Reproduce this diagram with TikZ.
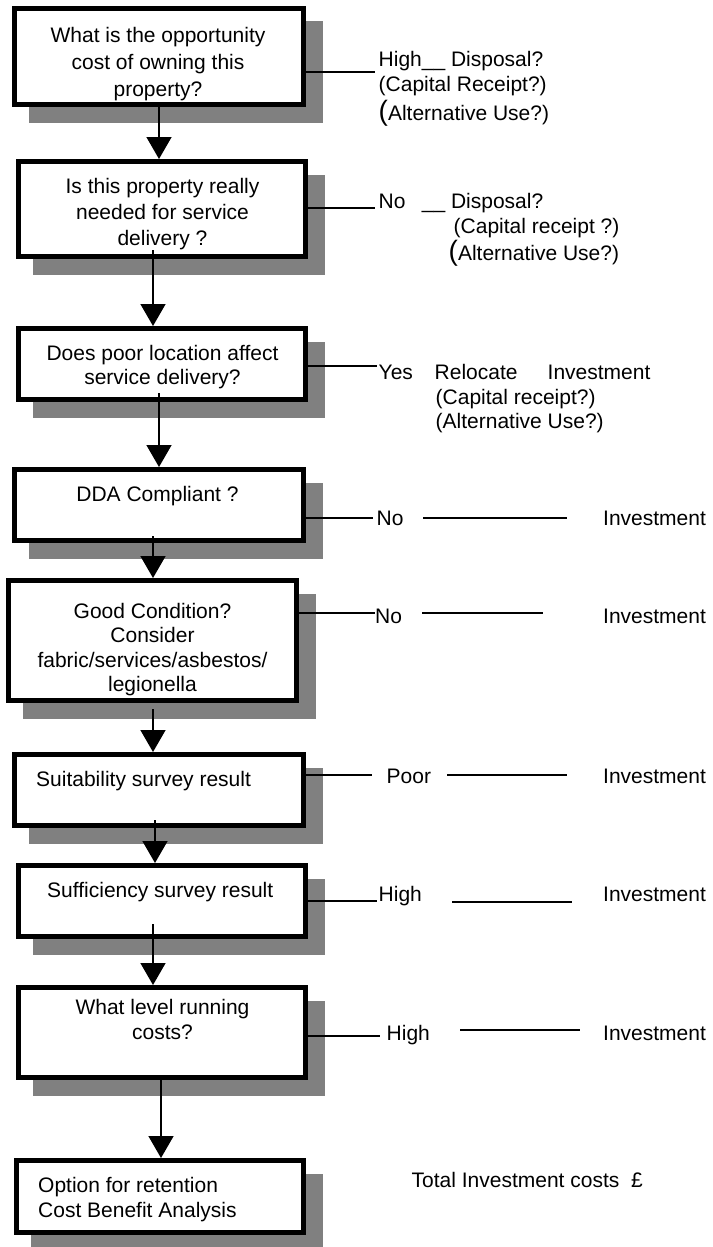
\documentclass[tikz,border=0pt]{standalone}
\usepackage{fontspec}
\setmainfont{Liberation Sans}
\usetikzlibrary{arrows.meta, shadows}
\definecolor{shadegray}{RGB}{128,128,128}
\newcommand\bigparen{{\fontsize{28}{28}\selectfont(}}

\begin{document}
\begin{tikzpicture}[x = 1pt, y = -1pt,
  every node/.style = {font = \fontsize{21}{24.5}\selectfont, inner sep = 0pt},
  qbox/.style = {draw, line width = 5pt, fill = white,
    drop shadow = {shadow xshift = 16.5pt, shadow yshift = -15.5pt, fill = shadegray, draw = shadegray, opacity = 1}},
  qtext/.style = {align = center},
  lbl/.style = {anchor = base west},
  flow/.style = {line width = 1.5pt, -{Triangle[width = 25pt, length = 22pt]}},
  link/.style = {line width = 1.2pt}]

 \useasboundingbox (0, 0) rectangle (712, 1247);

 \node[qbox, minimum width = 289pt, minimum height = 96pt] (q1) at (159, 56.5) {};
 \node[qbox, minimum width = 287pt, minimum height = 95pt] (q2) at (162, 209) {};
 \node[qbox, minimum width = 287pt, minimum height = 71pt] (q3) at (162, 364) {};
 \node[qbox, minimum width = 289pt, minimum height = 71pt] (q4) at (159, 505) {};
 \node[qbox, minimum width = 288pt, minimum height = 120pt] (q5) at (152.5, 640.5) {};
 \node[qbox, minimum width = 289pt, minimum height = 71pt] (q6) at (159, 790) {};
 \node[qbox, minimum width = 287pt, minimum height = 71pt] (q7) at (162, 901) {};
 \node[qbox, minimum width = 287pt, minimum height = 90pt] (q8) at (162, 1032.5) {};
 \node[qbox, minimum width = 287pt, minimum height = 72pt] (q9) at (160, 1196.5) {};

 \node[qtext, font = \fontsize{21}{27}\selectfont] (t1) at (158, 64) {What is the opportunity\\cost of owning this\\property?};
 \node[qtext, font = \fontsize{21}{26}\selectfont] (t2) at (162.5, 214.5) {Is this property really\\needed for service\\delivery ?};
 \node[qtext] (t3) at (162.5, 367.3) {Does poor location affect\\service delivery?};
 \node[anchor = base] (t4) at (157.5, 501.7) {DDA Compliant ?};
 \node[qtext] (t5) at (152.5, 649.5) {Good Condition?\\Consider\\fabric/services/asbestos/\\legionella};
 \node[lbl] (t6) at (36, 786) {Suitability survey result};
 \node[lbl] (t7) at (47, 897) {Sufficiency survey result};
 \node[qtext] (t8) at (162.5, 1019.4) {What level running\\costs?};
 \node[anchor = west, align = left] (t9) at (38, 1199.5) {Option for retention\\Cost Benefit Analysis};

 \foreach \a/\b/\x/\s in {q1/q2/159/0, q2/q3/153/9, q3/q4/159/9, q4/q5/153/7, q5/q6/153/-6, q6/q7/155/8, q7/q8/153/15, q8/q9/161/0}
  \draw[flow] ([yshift = \s pt]\a.south -| \x, 0) -- (\b.north -| \x, 0);

 \node[lbl] (h1) at (378.5, 66.7) {High\_\_ Disposal?};
 \node[lbl] (c1) at (378.5, 91.5) {(Capital Receipt?)};
 \node[lbl] (u1) at (378.5, 120) {\bigparen Alternative Use?)};
 \draw[link, shorten >= 3.5pt] (q1.east |- 0, 72) -- (h1.west |- 0, 72);

 \node[lbl] (n2) at (378.5, 208) {\rlap{No}\phantom{High}\_\_ Disposal?};
 \node[lbl] (c2) at (453.5, 233) {(Capital receipt ?)};
 \node[lbl] (u2) at (448.5, 260) {\bigparen Alternative Use?)};
 \draw[link, shorten >= 3.5pt] (q2.east |- 0, 208) -- (n2.west |- 0, 208);

 \node[lbl] (y3) at (378.5, 379) {Yes};
 \node[lbl] (r3) at (434.5, 379) {Relocate};
 \node[lbl] (i3) at (547.5, 379) {Investment};
 \node[lbl] (c3) at (435.5, 404) {(Capital receipt?)};
 \node[lbl] (u3) at (435.5, 428) {(Alternative Use?)};
 \draw[link, shorten >= 1.5pt] (q3.east |- 0, 366) -- (y3.west |- 0, 366);

 \foreach \q/\ly/\sl/\w/\wx/\ty/\my/\sa/\sb in {
   q4/518/3.5pt/No/376.5/525/518/19.5pt/36pt,
   q5/613/0pt/No/375/623/613/20pt/60pt,
   q6/775/14.5pt/Poor/386.5/783/775/16pt/36pt,
   q7/901/1.5pt/High/378.5/901/902/30pt/31pt,
   q8/1036/6.5pt/High/386.5/1040/1030/30pt/23pt} {
  \node[lbl] (w\q) at (\wx, \ty) {\w};
  \node[lbl] (i\q) at (603, \ty) {Investment};
  \draw[link, shorten >= \sl] (\q.east |- 0, \ly) -- (w\q.west |- 0, \ly);
  \draw[link, shorten <= \sa, shorten >= \sb] (w\q.east |- 0, \my) -- (i\q.west |- 0, \my);
 }

 \node[lbl] (total) at (411.5, 1187) {Total Investment costs\ \ £};
\end{tikzpicture}
\end{document}
